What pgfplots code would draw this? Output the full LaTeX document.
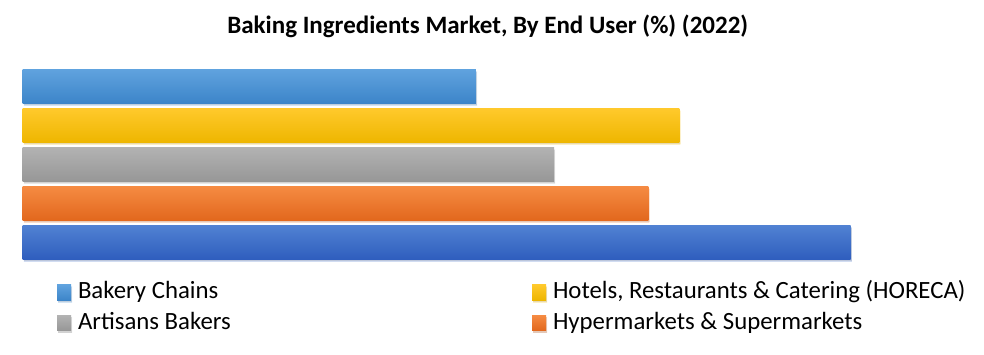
\documentclass[border=0pt]{standalone}
\usepackage{pgfplots}
\pgfplotsset{compat=1.18}
\usepackage{fontspec}
\setmainfont{Carlito}
\usetikzlibrary{shadows}
\definecolor{c1t}{HTML}{5FA2DE}\definecolor{c1b}{HTML}{3D85C9}
\definecolor{c2t}{HTML}{FFC92B}\definecolor{c2b}{HTML}{EEB600}
\definecolor{c3t}{HTML}{B2B2B2}\definecolor{c3b}{HTML}{979797}
\definecolor{c4t}{HTML}{F58A42}\definecolor{c4b}{HTML}{E2681D}
\definecolor{c5t}{HTML}{5081D2}\definecolor{c5b}{HTML}{2F5EBE}
\begin{document}
\begin{tikzpicture}
\useasboundingbox (0,0) rectangle (984bp,355bp);
\begin{axis}[
  at={(22.7bp,73.5bp)}, anchor=south west,
  scale only axis, width=930bp, height=234bp,
  xmin=0, xmax=30, ymin=0, ymax=6,
  hide axis, clip=false,
  xbar, bar width=33.3bp, bar shift=0pt,
  title={Baking Ingredients Market, By End User (\%) (2022)},
  title style={at={(axis description cs:0.5,1)}, anchor=center, yshift=15bp,
    font=\fontsize{25bp}{28bp}\selectfont\bfseries, xshift=0bp},
  legend columns=2,
  legend style={draw=none, fill=none, inner sep=0pt, outer sep=0pt,
    at={(axis description cs:0,0)}, anchor=north west, xshift=34.3bp, yshift=0bp,
    font=\fontsize{24.8bp}{27bp}\selectfont,
    nodes={inner sep=0pt, outer sep=0pt, text height=17bp, text depth=5bp, anchor=west},
    row sep=8.5bp,
    /tikz/every odd column/.append style={column sep=7bp},
    /tikz/every even column/.append style={column sep=0pt}},
  legend image code/.code={\fill[#1] (0bp,-7.5bp) rectangle (14bp,7.5bp);},
  every axis plot/.append style={draw=none, drop shadow={shadow xshift=1.2bp, shadow yshift=-2bp, opacity=0.22}},
]
\addplot[top color=c1t, bottom color=c1b] coordinates {(14.62,5)};
\addlegendentry{\makebox[454bp][l]{Bakery Chains}}
\addplot[top color=c2t, bottom color=c2b] coordinates {(21.18,4)};
\addlegendentry{Hotels, Restaurants \& Catering (HORECA)}
\addplot[top color=c3t, bottom color=c3b] coordinates {(17.14,3)};
\addlegendentry{Artisans Bakers}
\addplot[top color=c4t, bottom color=c4b] coordinates {(20.18,2)};
\addlegendentry{Hypermarkets \& Supermarkets}
\addplot[top color=c5t, bottom color=c5b, forget plot] coordinates {(26.71,1)};
\end{axis}
\end{tikzpicture}
\end{document}
